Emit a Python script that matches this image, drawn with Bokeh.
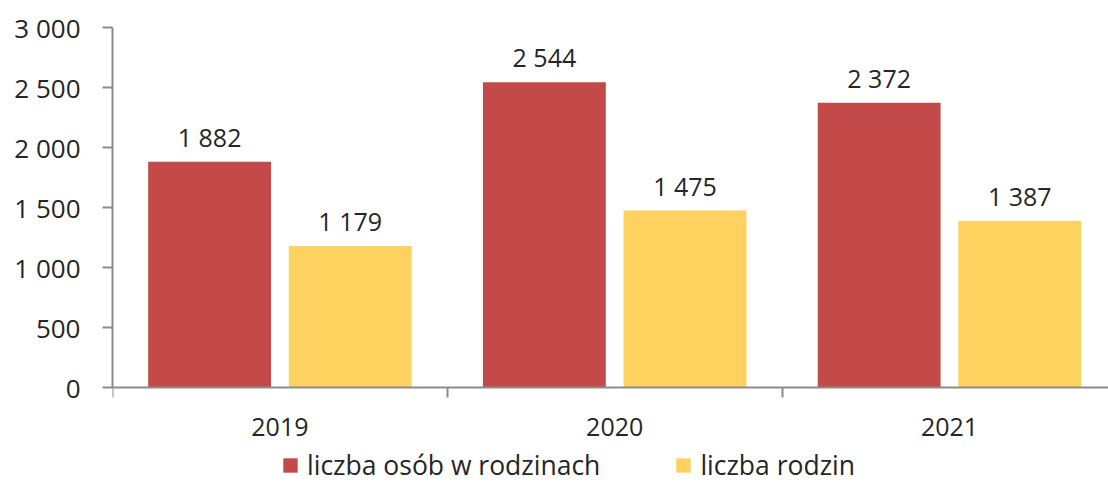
from bokeh.plotting import figure
from bokeh.models import (Range1d, FixedTicker, Legend, LegendItem, ColumnDataSource)
from bokeh.core.properties import value
from bokeh.embed import file_html
from bokeh.resources import INLINE

years = ["2019", "2020", "2021"]
persons = [1882, 2544, 2372]
families = [1179, 1475, 1387]
series_names = ["liczba osób w rodzinach", "liczba rodzin"]
y_ticks = [0, 500, 1000, 1500, 2000, 2500, 3000]
y_tick_labels = ["0", "500", "1 000", "1 500", "2 000", "2 500", "3 000"]

RED = "#C44A4A"
YEL = "#FFD25F"
FONT = "Open Sans"
TXT = "#262626"
FS = "25px"
AX = "#8C8C8C"

def fmt(v):
    return f"{v:,}".replace(",", " ")

idx = list(range(len(years)))
centers = [i + 0.5 for i in idx]
src_p = ColumnDataSource(dict(x=[i + 0.29 for i in idx], y=persons, lab=[fmt(v) for v in persons]))
src_f = ColumnDataSource(dict(x=[i + 0.71 for i in idx], y=families, lab=[fmt(v) for v in families]))

# frame extends below zero so the legend fits inside it; the x axis sits at y=0
p = figure(frame_width=996, frame_height=456, output_backend="svg", toolbar_location=None,
           x_range=Range1d(0, 2.975), y_range=Range1d(-800, 3000),
           min_border_left=112, min_border_top=27, min_border_right=0, min_border_bottom=0)
p.outline_line_color = None
p.grid.visible = False

r1 = p.vbar(x="x", top="y", width=0.367, source=src_p, fill_color=RED, line_color=None)
r2 = p.vbar(x="x", top="y", width=0.367, source=src_f, fill_color=YEL, line_color=None)

for src in (src_p, src_f):
    p.text(x="x", y="y", text="lab", source=src, text_align="center", text_baseline="bottom",
           y_offset=-8, text_font=value(FONT), text_font_size=FS, text_color=TXT)

# y axis
ya = p.yaxis[0]
ya.ticker = FixedTicker(ticks=y_ticks)
ya.bounds = (0, 3000)
ya.major_label_overrides = {t: l for t, l in zip(y_ticks, y_tick_labels)}
ya.major_tick_out = 10
ya.major_tick_in = 0
ya.minor_tick_out = 0
ya.minor_tick_in = 0
ya.major_label_standoff = 22
ya.axis_line_color = AX
ya.axis_line_width = 2
ya.major_tick_line_color = AX
ya.major_tick_line_width = 2
ya.major_label_text_font = FONT
ya.major_label_text_font_size = "26px"
ya.major_label_text_color = TXT

# x axis
xa = p.xaxis[0]
xa.fixed_location = 0
xa.ticker = FixedTicker(ticks=centers, minor_ticks=[0, 1, 2, 3])
xa.major_label_overrides = {c: y for c, y in zip(centers, years)}
xa.major_tick_out = 0
xa.major_tick_in = 0
xa.minor_tick_out = 10
xa.minor_tick_in = 0
xa.minor_tick_line_color = AX
xa.minor_tick_line_width = 2
xa.major_label_standoff = 20
xa.axis_line_color = AX
xa.axis_line_width = 2
xa.major_label_text_font = FONT
xa.major_label_text_font_size = FS
xa.major_label_text_color = TXT

legend = Legend(items=[LegendItem(label=series_names[0], renderers=[r1]),
                       LegendItem(label=series_names[1], renderers=[r2])],
                orientation="horizontal", location=(169, 0),
                border_line_alpha=0, background_fill_alpha=0,
                label_text_font=FONT, label_text_font_size="26.5px", label_text_color=TXT,
                glyph_width=18, glyph_height=18, spacing=74, label_standoff=8,
                padding=0, margin=0, label_height=24)
p.add_layout(legend, "center")

open("out.html", "w").write(file_html(p, INLINE))
